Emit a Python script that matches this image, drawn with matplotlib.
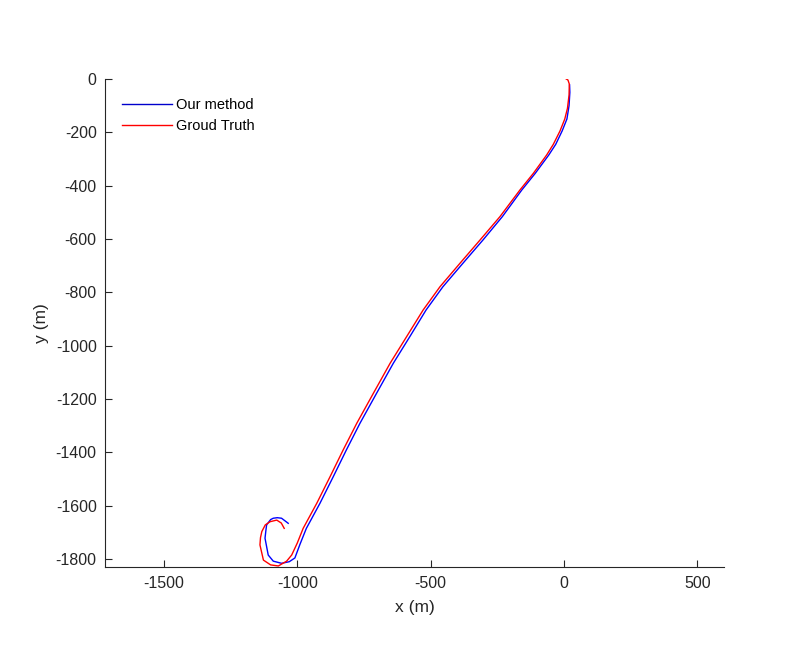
import matplotlib.pyplot as plt

plt.rcParams['font.family'] = ['Liberation Sans', 'DejaVu Sans']
plt.rcParams['axes.unicode_minus'] = False

# trayectoria estimada (Our method)
est_x = [21, 22, 19, 11, -7, -31, -57, -108, -158, -231, -304, -379, -454, -517,
         -578, -640, -703, -765, -816, -865, -915, -966, -990, -1009, -1030,
         -1059, -1090, -1109, -1121, -1118, -1115, -1100, -1090, -1075, -1059, -1034]
est_y = [-22, -50, -100, -150, -195, -245, -285, -354, -416, -516, -604, -691, -779, -866,
         -966, -1066, -1179, -1291, -1391, -1491, -1591, -1685, -1745, -1796, -1810,
         -1816, -1808, -1785, -1722, -1695, -1672, -1652, -1647, -1645, -1647, -1666]

# ground truth
gt_x = [1, 15, 20, 19, 13, 3, -15, -40, -65, -115, -165, -240, -315, -390, -465, -528,
        -590, -652, -715, -777, -828, -877, -927, -978, -1000, -1021, -1040, -1071,
        -1100, -1127, -1140, -1138, -1133, -1120, -1102, -1077, -1060, -1049]
gt_y = [5, -4, -19, -60, -110, -150, -195, -245, -285, -354, -416, -516, -604, -691, -779, -866,
        -966, -1066, -1179, -1291, -1391, -1491, -1591, -1685, -1740, -1785, -1808, -1826,
        -1822, -1804, -1747, -1720, -1697, -1672, -1660, -1654, -1665, -1685]

fig = plt.figure(figsize=(8.01, 6.69), dpi=100)
ax = fig.add_axes([105/801, 1 - 567.3/669, (724 - 105)/801, (567.3 - 79)/669])

ax.plot(est_x, est_y, color='#0000ff', lw=1.0, label='Our method',
        solid_joinstyle='round')
ax.plot(gt_x, gt_y, color='#ff0000', lw=1.0, label='Groud Truth',
        solid_joinstyle='round')

ax.set_xlim(-1721, 600)
ax.set_ylim(-1831, 0)
ax.set_xticks([-1500, -1000, -500, 0, 500])
ax.set_yticks(range(-1800, 1, 200))

ax.spines['top'].set_visible(False)
ax.spines['right'].set_visible(False)
for s in ['left', 'bottom']:
    ax.spines[s].set_linewidth(0.8)
    ax.spines[s].set_color('#262626')
ax.tick_params(direction='in', length=5, width=0.8, labelsize=11.5,
               colors='#262626', pad=6)

ax.set_xlabel('x (m)', fontsize=12.5, color='#262626', labelpad=7)
ax.set_ylabel('y (m)', fontsize=12.5, color='#262626', labelpad=5)

leg = ax.legend(loc='upper left', bbox_to_anchor=(122/801, 1 - 98/669),
                bbox_transform=fig.transFigure, frameon=False, fontsize=10.5,
                handlelength=3.4, handletextpad=0.3, labelspacing=0.48,
                borderpad=0, borderaxespad=0)
leg.get_lines()[0].set_color('#0000cc')

fig.savefig('out.png', dpi=100)
